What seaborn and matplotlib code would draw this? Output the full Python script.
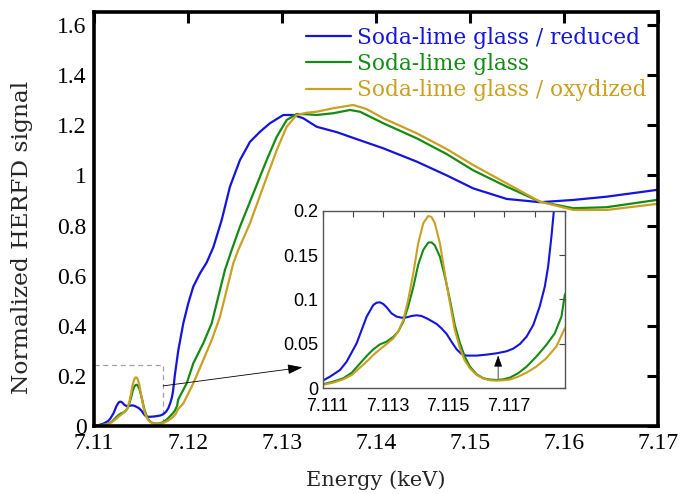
import numpy as np
import pandas as pd
import matplotlib
matplotlib.use("Agg")
import matplotlib.pyplot as plt
import matplotlib.transforms as mtransforms
import seaborn as sns

# Energy grids (keV) and normalized HERFD intensities for each sample
energy_reduced = [7.11000, 7.11050, 7.11100, 7.11124, 7.11157, 7.11179, 7.11212, 7.11245,
                  7.11267, 7.11278, 7.11289, 7.11300, 7.11311, 7.11327, 7.11344, 7.11360,
                  7.11377, 7.11393, 7.11410, 7.11426, 7.11443, 7.11459, 7.11476, 7.11492,
                  7.11509, 7.11525, 7.11542, 7.11558, 7.11575, 7.11608, 7.11641, 7.11674,
                  7.11707, 7.11729, 7.11751, 7.11773, 7.11795, 7.11816, 7.11833, 7.11844,
                  7.11855, 7.11863, 7.11900, 7.11954, 7.12007, 7.12060, 7.12131, 7.12202,
                  7.12273, 7.12362, 7.12450, 7.12556, 7.12663, 7.12769, 7.12875, 7.13017,
                  7.13123, 7.13229, 7.13372, 7.13590, 7.13726, 7.14080, 7.14435, 7.14754,
                  7.15037, 7.15392, 7.15746, 7.16100, 7.16455, 7.16987]
signal_reduced = [0.000, 0.003, 0.0086, 0.0131, 0.0206, 0.030, 0.0507, 0.0807,
                  0.0938, 0.0964, 0.0968, 0.0949, 0.0912, 0.0844, 0.0807, 0.0795,
                  0.0799, 0.0814, 0.0822, 0.0814, 0.0788, 0.0758, 0.0724, 0.0675,
                  0.0612, 0.0525, 0.0439, 0.0386, 0.0368, 0.0368, 0.0379, 0.0394,
                  0.0417, 0.0447, 0.0499, 0.0582, 0.0713, 0.0919, 0.1144, 0.137,
                  0.171, 0.200, 0.300, 0.410, 0.490, 0.556, 0.609, 0.652,
                  0.713, 0.822, 0.955, 1.061, 1.134, 1.174, 1.208, 1.241,
                  1.241, 1.228, 1.194, 1.172, 1.154, 1.108, 1.055, 1.000,
                  0.948, 0.906, 0.893, 0.902, 0.915, 0.942]

energy_glass = [7.11000, 7.11050, 7.11100, 7.11135, 7.11168, 7.11196, 7.11223, 7.11245,
                7.11267, 7.11289, 7.11311, 7.11333, 7.11349, 7.11366, 7.11382, 7.11399,
                7.11415, 7.11432, 7.11448, 7.11459, 7.11470, 7.11487, 7.11503, 7.11520,
                7.11536, 7.11553, 7.11569, 7.11586, 7.11608, 7.11630, 7.11652, 7.11674,
                7.11696, 7.11718, 7.11745, 7.11773, 7.11805, 7.11838, 7.11866, 7.11888,
                7.11899, 7.11990, 7.12060, 7.12166, 7.12256, 7.12326, 7.12397, 7.12468,
                7.12556, 7.12698, 7.12840, 7.12947, 7.13053, 7.13159, 7.13266, 7.13372,
                7.13548, 7.13726, 7.13832, 7.14080, 7.14435, 7.14754, 7.15037, 7.15392,
                7.15746, 7.16100, 7.16455, 7.16987]
signal_glass = [0.000, 0.002, 0.0045, 0.0075, 0.0113, 0.0176, 0.028, 0.0364,
                0.0439, 0.0495, 0.0525, 0.058, 0.0638, 0.075, 0.092, 0.114,
                0.139, 0.156, 0.164, 0.1644, 0.161, 0.148, 0.126, 0.0994,
                0.0713, 0.0507, 0.0356, 0.0244, 0.0158, 0.0113, 0.0098, 0.0094,
                0.0101, 0.012, 0.0169, 0.0244, 0.0356, 0.0488, 0.0619, 0.0807,
                0.105, 0.170, 0.250, 0.330, 0.410, 0.516, 0.623, 0.702,
                0.795, 0.928, 1.061, 1.154, 1.221, 1.245, 1.244, 1.241,
                1.248, 1.261, 1.254, 1.208, 1.148, 1.085, 1.020, 0.955,
                0.895, 0.869, 0.873, 0.902]

energy_oxidized = [7.11000, 7.11050, 7.11100, 7.11135, 7.11168, 7.11196, 7.11223, 7.11245,
                   7.11267, 7.11289, 7.11311, 7.11333, 7.11349, 7.11366, 7.11382, 7.11399,
                   7.11415, 7.11432, 7.11448, 7.11459, 7.11470, 7.11487, 7.11503, 7.11520,
                   7.11536, 7.11553, 7.11569, 7.11586, 7.11608, 7.11630, 7.11652, 7.11674,
                   7.11696, 7.11718, 7.11745, 7.11773, 7.11805, 7.11838, 7.11871, 7.11899,
                   7.11954, 7.12060, 7.12166, 7.12256, 7.12344, 7.12415, 7.12485, 7.12538,
                   7.12663, 7.12804, 7.12947, 7.13053, 7.13159, 7.13266, 7.13372, 7.13548,
                   7.13761, 7.13900, 7.14080, 7.14435, 7.14754, 7.15037, 7.15392, 7.15746,
                   7.16100, 7.16455, 7.16987]
signal_oxidized = [0.000, 0.0015, 0.0038, 0.0064, 0.0101, 0.015, 0.0233, 0.030,
                   0.0375, 0.0439, 0.0499, 0.0563, 0.0638, 0.0769, 0.0994, 0.1295,
                   0.163, 0.186, 0.194, 0.193, 0.186, 0.163, 0.1295, 0.0957,
                   0.0657, 0.045, 0.0311, 0.0225, 0.015, 0.0109, 0.009, 0.0086,
                   0.009, 0.0098, 0.0131, 0.0176, 0.0244, 0.0338, 0.0469, 0.0675,
                   0.090, 0.170, 0.263, 0.343, 0.436, 0.543, 0.649, 0.702,
                   0.809, 0.955, 1.101, 1.194, 1.241, 1.250, 1.254, 1.268,
                   1.281, 1.265, 1.228, 1.168, 1.105, 1.041, 0.968, 0.895,
                   0.862, 0.862, 0.886]

labels = ["Soda-lime glass / reduced", "Soda-lime glass", "Soda-lime glass / oxydized"]
colors = ["#1414dc", "#158a15", "#c9a021"]

main_xticks = [7.11, 7.12, 7.13, 7.14, 7.15, 7.16, 7.17]
main_yticks = [0, 0.2, 0.4, 0.6, 0.8, 1.0, 1.2, 1.4, 1.6]
main_yticklabels = ["0", "0.2", "0.4", "0.6", "0.8", "1", "1.2", "1.4", "1.6"]
inset_xticks = [7.111, 7.112, 7.113, 7.114, 7.115, 7.116, 7.117, 7.118, 7.119]
inset_xticklabels = ["7.111", "", "7.113", "", "7.115", "", "7.117", "", ""]
inset_yticks = [0, 0.05, 0.1, 0.15, 0.2]
inset_yticklabels = ["0", "0.05", "0.1", "0.15", "0.2"]

frames = []
for lab, e, s in zip(labels,
                     [energy_reduced, energy_glass, energy_oxidized],
                     [signal_reduced, signal_glass, signal_oxidized]):
    frames.append(pd.DataFrame({"Energy": e, "Signal": s, "Sample": lab}))
df = pd.concat(frames, ignore_index=True)
palette = dict(zip(labels, colors))

sns.set_style("white")
serif_ticks = ["Liberation Serif", "DejaVu Serif"]
serif_text = ["DejaVu Serif"]
sans = ["Liberation Sans", "DejaVu Sans"]
plt.rcParams["font.family"] = serif_ticks

fig = plt.figure(figsize=(6.8, 4.94), dpi=100)
ax = fig.add_axes([0.1376, 0.1377, 0.8300, 0.8370])

sns.lineplot(data=df, x="Energy", y="Signal", hue="Sample", palette=palette,
             hue_order=labels, sort=False, estimator=None, linewidth=1.6, ax=ax)

ax.set_xlim(7.11, 7.17)
ax.set_ylim(0, 1.65)
ax.set_xticks(main_xticks)
ax.set_xticklabels([f"{t:.2f}" for t in main_xticks])
ax.set_yticks(main_yticks)
ax.set_yticklabels(main_yticklabels)
ax.tick_params(direction="in", length=8, width=2.2, labelsize=17,
               top=True, right=True, pad=5, colors="black")
for sp in ax.spines.values():
    sp.set_linewidth(2.6)
    sp.set_color("black")
ax.set_xlabel("Energy (keV)", fontsize=15, family=serif_text, labelpad=12)
ax.set_ylabel("Normalized HERFD signal", fontsize=16.8, family=serif_text)
ax.yaxis.set_label_coords(-0.108, 0.457)

leg = ax.legend(loc="upper left", bbox_to_anchor=(0.354, 0.997), frameon=False,
                prop={"family": serif_text, "size": 15.6}, handlelength=2.05,
                handletextpad=0.3, labelspacing=0.2, borderaxespad=0.2)
for text, c in zip(leg.get_texts(), colors):
    text.set_color(c)
for line in leg.get_lines():
    line.set_linewidth(1.6)

# Zoom box around the pre-edge region and the arrow pointing to the inset
ax.plot([7.11, 7.1174, 7.1174, 7.11], [0.243, 0.243, 0.0, 0.0],
        ls=(0, (4, 3)), color="#a0a0a0", lw=0.9, zorder=1)
ax.annotate("", xy=(7.1322, 0.234), xytext=(7.1174, 0.16),
            arrowprops=dict(arrowstyle="-|>,head_length=0.9,head_width=0.3",
                            color="black", lw=0.6, shrinkA=0, shrinkB=0))

# Inset: pre-edge detail
axin = fig.add_axes([0.4746, 0.2140, 0.3564, 0.3595])
sns.lineplot(data=df, x="Energy", y="Signal", hue="Sample", palette=palette,
             hue_order=labels, sort=False, estimator=None, linewidth=1.5,
             legend=False, ax=axin)
axin.set_xlim(7.111, 7.119)
axin.set_ylim(0, 0.2)
axin.set_xticks(inset_xticks)
axin.set_xticklabels(inset_xticklabels, family=sans)
axin.set_yticks(inset_yticks)
axin.set_yticklabels(inset_yticklabels, family=sans)
axin.tick_params(direction="in", length=4, width=0.8, labelsize=13,
                 top=True, right=True, pad=3, colors="#444444", labelcolor="black")
axin.tick_params(axis="x", pad=7)
shift = mtransforms.ScaledTranslation(4 / 100, 0, fig.dpi_scale_trans)
for lbl in axin.get_xticklabels():
    lbl.set_transform(lbl.get_transform() + shift)
for sp in axin.spines.values():
    sp.set_linewidth(1.0)
    sp.set_color("#555555")
axin.set_xlabel("")
axin.set_ylabel("")
axin.annotate("", xy=(7.11679, 0.037), xytext=(7.11679, 0.011),
              arrowprops=dict(arrowstyle="-|>,head_length=0.7,head_width=0.25",
                              color="black", lw=0.5, shrinkA=0, shrinkB=0))

fig.savefig("out.png", dpi=100)
